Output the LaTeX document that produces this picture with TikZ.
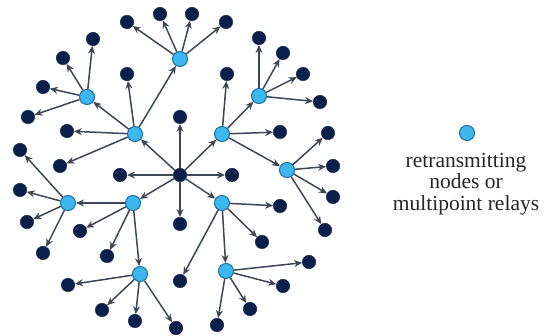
\documentclass[tikz,border=0pt]{standalone}
\usepackage{fontspec}
\setmainfont{Liberation Serif}
\usetikzlibrary{arrows.meta}
\definecolor{navy}{HTML}{0B1F4B}
\definecolor{relayfill}{HTML}{3DB8EE}
\definecolor{relayline}{HTML}{1E6DA6}
\definecolor{linkgray}{HTML}{3E4654}
\begin{document}
\begin{tikzpicture}[x=1pt,y=-1pt,
	dot/.style={circle,fill=navy,draw=navy,minimum size=13.5pt,inner sep=0pt},
	relay/.style={circle,fill=relayfill,draw=relayline,line width=1pt,minimum size=15pt,inner sep=0pt},
	link/.style={-{Stealth[length=8pt,width=7pt]},draw=linkgray,line width=1.5pt}]
		\useasboundingbox (0,0) rectangle (544,336);
		\node[dot](c) at (180,175){};
		\node[relay](ul) at (135,134){};
		\node[relay](ur) at (222,134){};
		\node[relay](ll) at (133,203){};
		\node[relay](lr) at (222,203){};
		\node[relay](top) at (180,59){};
		\node[relay](tl) at (87,97){};
		\node[relay](tr) at (259,96){};
		\node[relay](rt) at (287,170){};
		\node[relay](lf) at (68,203){};
		\node[relay](bl) at (140,274){};
		\node[relay](br) at (226,271){};
		% plain nodes
		\node[dot](c1) at (180,117){};
		\node[dot](c2) at (120,175){};
		\node[dot](c3) at (232,175){};
		\node[dot](c4) at (180,224){};
		\node[dot](top1) at (127,22){};
		\node[dot](top2) at (160,14){};
		\node[dot](top3) at (192,14){};
		\node[dot](top4) at (226,22){};
		\node[dot](tl1) at (93,39){};
		\node[dot](tl2) at (63,58){};
		\node[dot](tl3) at (43,87){};
		\node[dot](tl4) at (28,117){};
		\node[dot](ul1) at (127,74){};
		\node[dot](ul2) at (67,131){};
		\node[dot](ul3) at (60,166){};
		\node[dot](ur1) at (227,74){};
		\node[dot](ur2) at (280,132){};
		\node[dot](tr1) at (259,38){};
		\node[dot](tr2) at (283,53){};
		\node[dot](tr3) at (303,74){};
		\node[dot](tr4) at (320,102){};
		\node[dot](rt1) at (328,133){};
		\node[dot](rt2) at (333,166){};
		\node[dot](rt3) at (333,197){};
		\node[dot](rt4) at (325,230){};
		\node[dot](lr1) at (280,206){};
		\node[dot](lr2) at (262,242){};
		\node[dot](lr3) at (180,281){};
		\node[dot](br1) at (309,262){};
		\node[dot](br2) at (283,286){};
		\node[dot](br3) at (250,309){};
		\node[dot](br4) at (217,325){};
		\node[dot](ll1) at (80,231){};
		\node[dot](ll2) at (107,256){};
		\node[dot](lf1) at (20,150){};
		\node[dot](lf2) at (20,190){};
		\node[dot](lf3) at (27,222){};
		\node[dot](lf4) at (43,253){};
		\node[dot](bl1) at (68,285){};
		\node[dot](bl2) at (102,310){};
		\node[dot](bl3) at (135,321){};
		\node[dot](bl4) at (176,328){};
		% links
		\path (c) edge[link](c1) edge[link](c2) edge[link](c3) edge[link](c4)
			edge[link](ul) edge[link](ur) edge[link](ll) edge[link](lr);
		\path (ul) edge[link](top) edge[link](tl) edge[link](ul1) edge[link](ul2) edge[link](ul3);
		\path (ur) edge[link](tr) edge[link](rt) edge[link](ur1) edge[link](ur2);
		\path (ll) edge[link](lf) edge[link](bl) edge[link](ll1) edge[link](ll2);
		\path (lr) edge[link](br) edge[link](lr1) edge[link](lr2) edge[link](lr3);
		\path (top) edge[link](top1) edge[link](top2) edge[link](top3) edge[link](top4);
		\path (tl) edge[link](tl1) edge[link](tl2) edge[link](tl3) edge[link](tl4);
		\path (tr) edge[link](tr1) edge[link](tr2) edge[link](tr3) edge[link](tr4);
		\path (rt) edge[link](rt1) edge[link](rt2) edge[link](rt3) edge[link](rt4);
		\path (lf) edge[link](lf1) edge[link](lf2) edge[link](lf3) edge[link](lf4);
		\path (bl) edge[link](bl1) edge[link](bl2) edge[link](bl3) edge[link](bl4);
		\path (br) edge[link](br1) edge[link](br2) edge[link](br3) edge[link](br4);
		% legend
		\node[relay](key) at (467,133){};
		\node[align=center,text=black!85,font=\fontsize{21.5}{21.7}\selectfont](keytext) at (466,184){retransmitting\\nodes or\\multipoint relays};
\end{tikzpicture}
\end{document}
